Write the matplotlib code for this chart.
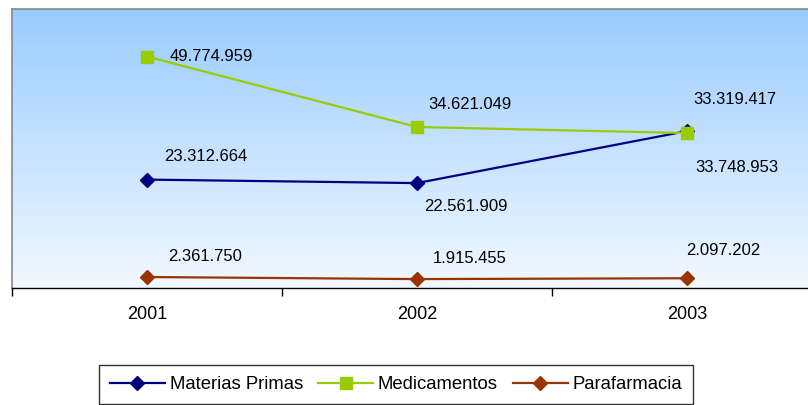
import matplotlib
matplotlib.use("Agg")
import matplotlib.pyplot as plt
import numpy as np
from matplotlib.colors import LinearSegmentedColormap

plt.rcParams['font.family'] = ['Liberation Sans', 'DejaVu Sans']

years = ["2001", "2002", "2003"]
materias = [23312664, 22561909, 33748953]
medicamentos = [49774959, 34621049, 33319417]
parafarmacia = [2361750, 1915455, 2097202]

def fmt(v):
    return f"{v:,}".replace(",", ".")

W, H = 808, 405
fig = plt.figure(figsize=(W/100, H/100), dpi=100)
fig.patch.set_facecolor('white')
ax = fig.add_axes([12/W, 1-288/H, (822-12)/W, 279/H])

x = np.arange(len(years))
ax.set_xlim(-0.5, 2.5)
ax.set_ylim(0, 60_000_000)

cmap = LinearSegmentedColormap.from_list("g", ["#F2F8FF", "#99CCFF"])
grad = np.linspace(0, 1, 256).reshape(-1, 1)
ax.imshow(grad, extent=[-0.5, 2.5, 0, 60_000_000], origin='lower', aspect='auto',
          cmap=cmap, zorder=0)

l1, = ax.plot(x, materias, color='#000080', lw=1.6, marker='D', ms=7,
              mfc='#000080', mec='#000080', label='Materias Primas', zorder=3)
l2, = ax.plot(x, medicamentos, color='#99CC00', lw=1.6, marker='s', ms=9,
              mfc='#99CC00', mec='#99CC00', label='Medicamentos', zorder=4)
l3, = ax.plot(x, parafarmacia, color='#993300', lw=1.6, marker='D', ms=7,
              mfc='#993300', mec='#993300', label='Parafarmacia', zorder=3)

fs = 12
offs_med = [(23, 0), (11, 23), (6, 34)]
offs_mat = [(17, 23), (7, -23), (8, -36)]
offs_par = [(21, 21), (16, 21), (-1, 28)]
for series, offs in ((medicamentos, offs_med), (materias, offs_mat), (parafarmacia, offs_par)):
    for xi, v, (dx, dy) in zip(x, series, offs):
        ax.annotate(fmt(v), (xi, v), xytext=(dx, dy), textcoords='offset pixels',
                    ha='left', va='center', fontsize=fs, color='black', zorder=5)

ax.set_yticks([])
ax.set_xticks(x)
ax.set_xticklabels(years, fontsize=13)
ax.tick_params(axis='x', which='major', length=0, pad=13)
ax.set_xticks([-0.5, 0.5, 1.5, 2.5], minor=True)
ax.tick_params(axis='x', which='minor', length=6, width=1, direction='out', color='black')

for s in ('left', 'top', 'right'):
    ax.spines[s].set_color('#888888')
    ax.spines[s].set_linewidth(1.2)
ax.spines['bottom'].set_color('black')
ax.spines['bottom'].set_linewidth(1)

leg = fig.legend(handles=[l1, l2, l3], loc='upper center', bbox_to_anchor=(396/W, 1-365/H),
                 ncol=3, fontsize=13.3, frameon=True, fancybox=False, handlelength=3.0,
                 handletextpad=0.25, columnspacing=0.8, borderpad=0.6, borderaxespad=0)
leg.get_frame().set_edgecolor('black')
leg.get_frame().set_linewidth(1)

fig.savefig("out.png", dpi=100)
